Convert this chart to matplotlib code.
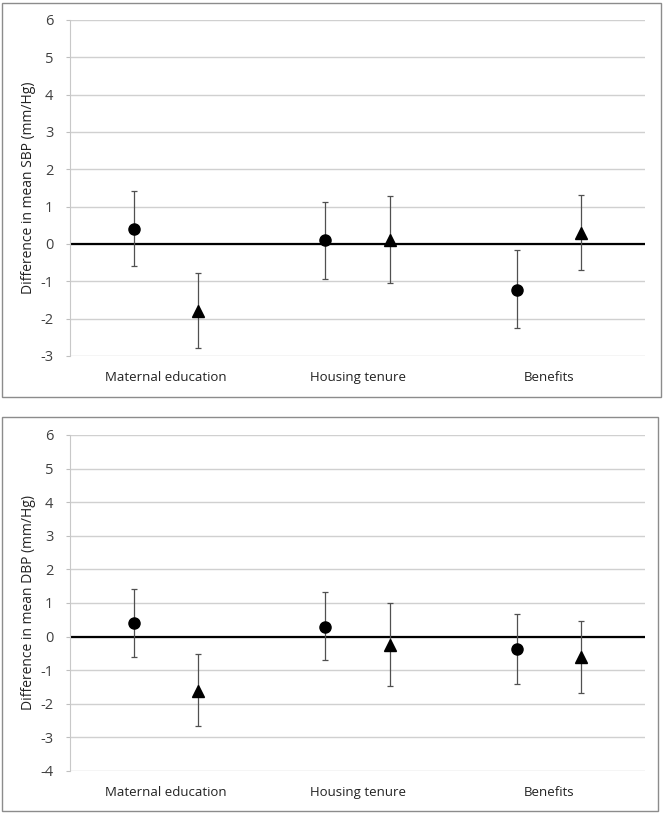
import matplotlib
matplotlib.use("Agg")
import matplotlib.pyplot as plt
import numpy as np
from matplotlib.patches import Rectangle

categories = ["Maternal education", "Housing tenure", "Benefits"]

# SBP panel: circle series and triangle series, with 95% CI bounds
sbp_circle = [0.4, 0.1, -1.22]
sbp_circle_lo = [-0.6, -0.93, -2.26]
sbp_circle_hi = [1.43, 1.13, -0.17]
sbp_triangle = [-1.8, 0.1, 0.3]
sbp_triangle_lo = [-2.78, -1.04, -0.7]
sbp_triangle_hi = [-0.78, 1.29, 1.3]

# DBP panel
dbp_circle = [0.4, 0.3, -0.38]
dbp_circle_lo = [-0.6, -0.69, -1.42]
dbp_circle_hi = [1.41, 1.32, 0.67]
dbp_triangle = [-1.62, -0.25, -0.62]
dbp_triangle_lo = [-2.66, -1.46, -1.67]
dbp_triangle_hi = [-0.51, 1.01, 0.46]

sbp_ticks = list(range(-3, 7))
dbp_ticks = list(range(-4, 7))

plt.rcParams['font.family'] = ['Open Sans', 'DejaVu Sans']

fig = plt.figure(figsize=(6.66, 8.15), dpi=100)
W, H = 666.0, 815.0

# panel frames
fig.patches.append(Rectangle((2 / W, 1 - 397 / H), 659 / W, 394 / H, transform=fig.transFigure,
                             fill=False, edgecolor='#8c8c8c', linewidth=1.0))
fig.patches.append(Rectangle((2 / W, 1 - 811 / H), 656 / W, 394 / H, transform=fig.transFigure,
                             fill=False, edgecolor='#8c8c8c', linewidth=1.0))


def draw_panel(ax, ylabel, ticks, circ, c_lo, c_hi, tri, t_lo, t_hi):
    x = np.arange(len(categories))
    off = 0.167
    circ = np.array(circ)
    tri = np.array(tri)
    c_err = [circ - np.array(c_lo), np.array(c_hi) - circ]
    t_err = [tri - np.array(t_lo), np.array(t_hi) - tri]

    ax.set_xlim(-0.5, len(categories) - 0.5)
    ax.set_ylim(ticks[0], ticks[-1])
    ax.set_yticks(ticks)
    ax.set_yticklabels([str(t) for t in ticks], fontsize=10.5, color='#404040')
    ax.set_xticks(x)
    ax.set_xticklabels(categories, fontsize=9.5, color='#222222')
    ax.tick_params(axis='x', length=0, pad=11)
    ax.tick_params(axis='y', length=3, color='#bfbfbf', pad=9)
    ax.grid(axis='y', color='#d0d0d0', linewidth=1.0)
    ax.set_axisbelow(True)
    for s in ['top', 'right', 'bottom']:
        ax.spines[s].set_visible(False)
    ax.spines['left'].set_color('#c8c8c8')
    ax.axhline(0, color='black', linewidth=1.6, zorder=2)

    ax.errorbar(x - off, circ, yerr=c_err, fmt='o', color='black', markersize=8,
                ecolor='#505050', elinewidth=0.9, capsize=2.5, capthick=0.9, zorder=3)
    ax.errorbar(x + off, tri, yerr=t_err, fmt='^', color='black', markersize=8,
                ecolor='#505050', elinewidth=0.9, capsize=2.5, capthick=0.9, zorder=3)
    ax.set_ylabel(ylabel, fontsize=10, color='#222222', labelpad=3)


ax1 = fig.add_axes([70 / W, 1 - 356 / H, 575 / W, 336 / H])
draw_panel(ax1, "Difference in mean SBP (mm/Hg)", sbp_ticks,
           sbp_circle, sbp_circle_lo, sbp_circle_hi,
           sbp_triangle, sbp_triangle_lo, sbp_triangle_hi)

ax2 = fig.add_axes([70 / W, 1 - 771 / H, 575 / W, 336 / H])
draw_panel(ax2, "Difference in mean DBP (mm/Hg)", dbp_ticks,
           dbp_circle, dbp_circle_lo, dbp_circle_hi,
           dbp_triangle, dbp_triangle_lo, dbp_triangle_hi)

fig.savefig("out.png", dpi=100)
